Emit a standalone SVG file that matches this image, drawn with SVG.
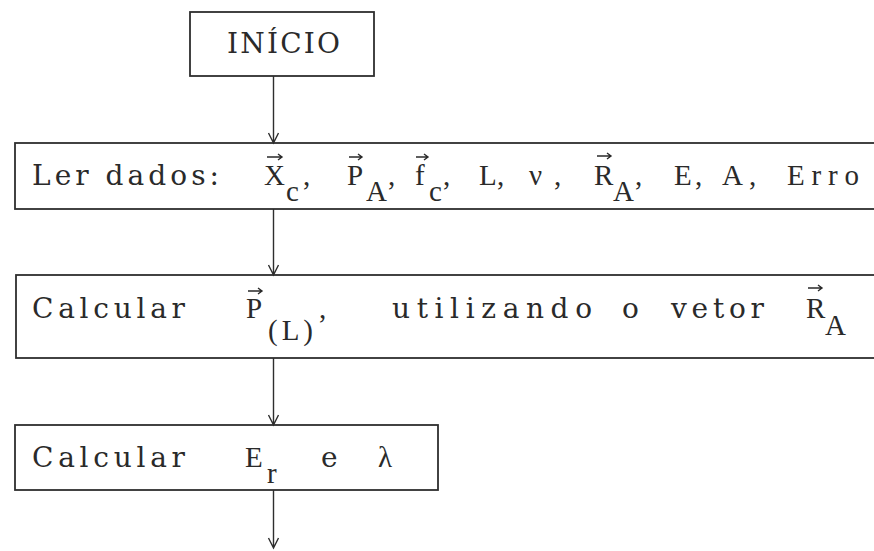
<svg xmlns="http://www.w3.org/2000/svg" width="874" height="551" viewBox="0 0 874 551">
<defs>
<style>
.box{fill:none;stroke:#2e2e2e;stroke-width:1.8}
.con{fill:none;stroke:#2e2e2e;stroke-width:1.4}
.t{font-family:"DejaVu Serif","Liberation Serif",serif;font-size:28px;fill:#2a2a2a}
.m{font-family:"Liberation Serif","Times New Roman",serif;font-size:29px;fill:#2a2a2a}
.v{fill:none;stroke:#2a2a2a;stroke-width:1.4}
</style>
</defs>
<rect width="874" height="551" fill="#ffffff"/>
<g id="connectors">
<path class="con" d="M273.5 76 V143 M268.5 133 L273.5 143 L278.5 133"/>
<path class="con" d="M273.5 209 V275 M268.5 265 L273.5 275 L278.5 265"/>
<path class="con" d="M273.5 358 V425 M268.5 415 L273.5 425 L278.5 415"/>
<path class="con" d="M273.5 490 V548 M268.5 538 L273.5 548 L278.5 538"/>
</g>
<g id="inicio">
<rect class="box" x="190" y="12" width="184" height="64"/>
<text class="t" x="227" y="53" textLength="113" lengthAdjust="spacing">INÍCIO</text>
</g>
<g id="ler-dados">
<rect class="box" x="15" y="143" width="870" height="66"/>
<text class="t" x="32" y="185" textLength="187" lengthAdjust="spacing">Ler dados:</text>
<text class="m" x="264" y="185">X</text>
<path class="v" d="M267 157 H282 M278 154 L282 157 L278 160"/>
<text class="m" x="286" y="201">c</text>
<text class="m" x="303" y="185">,</text>
<text class="m" x="347" y="185">P</text>
<path class="v" d="M349 157 H362 M358 154 L362 157 L358 160"/>
<text class="m" x="366" y="201">A</text>
<text class="m" x="388" y="185">,</text>
<text class="m" x="415" y="185">f</text>
<path class="v" d="M416 157 H428 M424 154 L428 157 L424 160"/>
<text class="m" x="429" y="201">c</text>
<text class="m" x="443" y="185">,</text>
<text class="m" x="479" y="185">L</text>
<text class="m" x="497" y="185">,</text>
<text class="m" x="529" y="185">ν</text>
<text class="m" x="554" y="185">,</text>
<text class="m" x="594" y="185">R</text>
<path class="v" d="M597 156 H611 M607 153 L611 156 L607 159"/>
<text class="m" x="613" y="201">A</text>
<text class="m" x="635" y="185">,</text>
<text class="m" x="674" y="185">E</text>
<text class="m" x="695" y="185">,</text>
<text class="m" x="722" y="185">A</text>
<text class="m" x="749" y="185">,</text>
<text class="m" x="787" y="185" textLength="72" lengthAdjust="spacing">Erro</text>
</g>
<g id="calcular-p">
<rect class="box" x="16" y="275" width="870" height="83"/>
<text class="t" x="32" y="318" textLength="153" lengthAdjust="spacing">Calcular</text>
<text class="m" x="246" y="318">P</text>
<path class="v" d="M248 291 H262 M258 288 L262 291 L258 294"/>
<text class="m" x="268" y="340" textLength="45" lengthAdjust="spacing">(L)</text>
<text class="m" x="319" y="318">,</text>
<text class="t" x="392" y="318" textLength="200" lengthAdjust="spacing">utilizando</text>
<text class="t" x="622" y="318">o</text>
<text class="t" x="671" y="318" textLength="93" lengthAdjust="spacing">vetor</text>
<text class="m" x="806" y="318">R</text>
<path class="v" d="M808 288 H822 M818 285 L822 288 L818 291"/>
<text class="m" x="825" y="335">A</text>
</g>
<g id="calcular-e">
<rect class="box" x="15" y="425" width="423" height="65"/>
<text class="t" x="32" y="467" textLength="153" lengthAdjust="spacing">Calcular</text>
<text class="m" x="245" y="467">E</text>
<text class="m" x="267" y="483">r</text>
<text class="t" x="321" y="467">e</text>
<text class="m" x="378" y="467">λ</text>
</g>
</svg>
